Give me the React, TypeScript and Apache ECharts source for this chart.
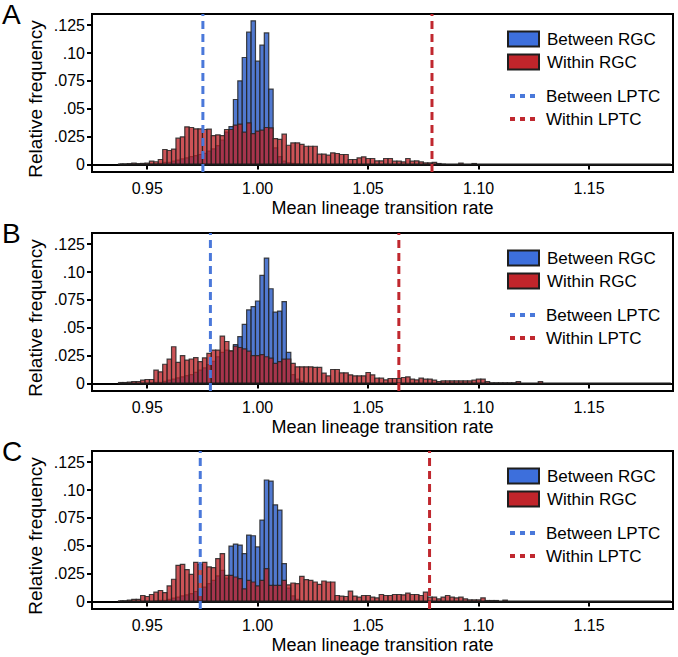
import React, { useEffect, useRef } from 'react';
import * as echarts from 'echarts';

// ---------- data ----------
const BIN_START = 0.937;
const BIN_WIDTH = 0.002;
const BASELINE_RANGE = [0.9375, 1.187];

const X_TICKS = [0.95, 1.0, 1.05, 1.1, 1.15];
const X_TICK_LABELS = ['0.95', '1.00', '1.05', '1.10', '1.15'];
const Y_TICKS = [0, 0.025, 0.05, 0.075, 0.1, 0.125];
const Y_TICK_LABELS = ['0', '.025', '.05', '.075', '.10', '.125'];

const PANEL_LETTERS = ['A', 'B', 'C'];
const betweenLPTC = [0.9752, 0.9786, 0.974];
const withinLPTC = [1.0789, 1.0639, 1.0778];

// Panel A
const betweenRGC_A = [
  0, 0, 0, 0, 0, 0, 0, 0.0005, 0.0005, 0.001,
  0.002, 0.002, 0.003, 0.004, 0.005, 0.006, 0.007, 0.008, 0.009, 0.01,
  0.012, 0.014, 0.017, 0.022, 0.029, 0.034, 0.0583, 0.075, 0.096, 0.1187,
  0.1289, 0.0927, 0.107, 0.118, 0.0676, 0.015, 0.007, 0.003, 0.0015, 0.001,
  0.0005,
];
const withinRGC_A = [
  0.0005, 0.0005, 0.0008, 0.0012, 0.0008, 0.001, 0.0012, 0.003, 0.0025, 0.0045,
  0.0135, 0.0126, 0.0138, 0.0236, 0.0248, 0.0338, 0.0332, 0.032, 0.032, 0.0314,
  0.0317, 0.026, 0.0266, 0.026, 0.0314, 0.0314, 0.0353, 0.0362, 0.029, 0.0374,
  0.0278, 0.03, 0.0308, 0.0332, 0.0329, 0.0233, 0.0225, 0.0272, 0.0173, 0.0194,
  0.0194, 0.018, 0.0164, 0.0164, 0.0164, 0.0093, 0.0093, 0.0084, 0.0105, 0.0099,
  0.009, 0.009, 0.0045, 0.0045, 0.006, 0.0069, 0.0054, 0.0054, 0.0033, 0.0033,
  0.0054, 0.0054, 0.003, 0.003, 0.0024, 0.0054, 0.003, 0.0033, 0.0024, 0.0015,
  0.0015, 0.002, 0.0009, 0.0003, 0, 0, 0, 0.0012, 0, 0,
  0.0009,
];

// Panel B
const betweenRGC_B = [
  0, 0, 0, 0, 0, 0, 0, 0.0005, 0.001, 0.001,
  0.002, 0.003, 0.004, 0.005, 0.006, 0.007, 0.008, 0.01, 0.012, 0.014,
  0.017, 0.02, 0.024, 0.028, 0.03, 0.029, 0.035, 0.042, 0.053, 0.066,
  0.069, 0.074, 0.097, 0.1125, 0.085, 0.064, 0.065, 0.0735, 0.028, 0.008,
  0.004, 0.002,
];
const withinRGC_B = [
  0.0009, 0.0009, 0.0012, 0.0018, 0.0018, 0.003, 0.0036, 0.0036, 0.012, 0.0105,
  0.0173, 0.0218, 0.033, 0.019, 0.025, 0.021, 0.022, 0.0233, 0.0197, 0.023,
  0.027, 0.03, 0.03, 0.0425, 0.0377, 0.0293, 0.0335, 0.0323, 0.031, 0.029,
  0.025, 0.025, 0.026, 0.024, 0.0227, 0.018, 0.0197, 0.0218, 0.022, 0.018,
  0.015, 0.015, 0.015, 0.015, 0.0144, 0.0144, 0.0093, 0.0069, 0.0126, 0.0126,
  0.0096, 0.0096, 0.0078, 0.0069, 0.0069, 0.0069, 0.0099, 0.0078, 0.0048, 0.0048,
  0.0033, 0.0045, 0.0045, 0.0045, 0.0054, 0.006, 0.0039, 0.0033, 0.0048, 0.0039,
  0.0039, 0.003, 0.0018, 0.0024, 0.0024, 0.0024, 0.0024, 0.0024, 0.0024, 0.0024,
  0.003, 0.0039, 0.0039, 0.0018, 0.0006, 0.0006, 0.0006, 0.0006, 0.0006, 0.0006,
  0.0018, 0, 0, 0, 0, 0.0018,
];

// Panel C
const betweenRGC_C = [
  0, 0, 0, 0, 0, 0, 0, 0, 0.0005, 0.001,
  0.001, 0.002, 0.003, 0.004, 0.005, 0.006, 0.007, 0.009, 0.011, 0.013,
  0.016, 0.019, 0.023, 0.028, 0.021, 0.0497, 0.0515, 0.0506, 0.043, 0.0596,
  0.059, 0.049, 0.073, 0.109, 0.108, 0.0867, 0.082, 0.034, 0.012, 0.005,
  0.002,
];
const withinRGC_C = [
  0.0006, 0.0006, 0.0012, 0.002, 0.002, 0.0054, 0.0045, 0.0063, 0.0084, 0.0099,
  0.008, 0.014, 0.02, 0.0325, 0.0334, 0.0286, 0.0244, 0.0352, 0.0334, 0.0352,
  0.031, 0.0304, 0.0385, 0.043, 0.0235, 0.0235, 0.022, 0.0205, 0.0114, 0.019,
  0.0175, 0.014, 0.019, 0.0295, 0.0144, 0.0144, 0.0144, 0.019, 0.015, 0.0166,
  0.016, 0.0226, 0.0196, 0.019, 0.0175, 0.0154, 0.0184, 0.0175, 0.0175, 0.0054,
  0.0048, 0.0045, 0.0093, 0.0048, 0.0039, 0.0054, 0.0054, 0.0039, 0.0033, 0.0063,
  0.0054, 0.0054, 0.0063, 0.0063, 0.006, 0.0075, 0.0063, 0.0063, 0.0054, 0.0084,
  0.0039, 0.0039, 0.0024, 0.0039, 0.0054, 0.0039, 0.0033, 0.0039, 0.0024, 0.0015,
  0.0015, 0.0015, 0.0033, 0.0009, 0.0009, 0.0009, 0, 0.0012,
];

const betweenRGC = [betweenRGC_A, betweenRGC_B, betweenRGC_C];
const withinRGC = [withinRGC_A, withinRGC_B, withinRGC_C];

// ---------- styling / layout ----------
const FONT = '"Liberation Sans", Arial, Helvetica, sans-serif';
const PANEL_TOPS = [14, 233, 451];
const GRID_LEFT = 92;
const GRID_WIDTH = 581;
const GRID_HEIGHT = 158;
const X_MIN = 0.925;
const X_MAX = 1.188;
const Y_MIN = -0.0067;
const Y_MAX = 0.135;

const BLUE = '#3d6fdc';
const RED = '#c1252b';
const BLUE_FILL = 'rgba(50,98,200,0.85)';
const RED_FILL = 'rgba(190,34,40,0.78)';
const EDGE = 'rgba(35,35,35,0.85)';
const LPTC_BLUE = '#4a78da';
const LPTC_RED = '#c0282f';
const DOTS = 'path://M0,0h5v4h-5z M10,0h5v4h-5z M20,0h5v4h-5z';

function histData(vals: number[]) {
  return vals.map((v, i) => [BIN_START + i * BIN_WIDTH, BIN_START + (i + 1) * BIN_WIDTH, v]);
}

const makeRender = (fill: string) => (_params: any, api: any) => {
  const v = api.value(2);
  if (!v) return null;
  const p0 = api.coord([api.value(0), v]);
  const p1 = api.coord([api.value(1), 0]);
  return {
    type: 'rect',
    shape: { x: p0[0], y: p0[1], width: p1[0] - p0[0], height: p1[1] - p0[1] },
    style: { fill, stroke: EDGE, lineWidth: 1.2 },
  };
};

function labelFor(ticks: number[], labels: string[], v: number) {
  for (let i = 0; i < ticks.length; i++) if (Math.abs(ticks[i] - v) < 1e-6) return labels[i];
  return '';
}

function buildOption() {
  const grid: any[] = [];
  const xAxis: any[] = [];
  const yAxis: any[] = [];
  const series: any[] = [];
  const legend: any[] = [];
  const graphic: any[] = [];

  PANEL_TOPS.forEach((top, i) => {
    grid.push({
      left: GRID_LEFT, top, width: GRID_WIDTH, height: GRID_HEIGHT,
      show: true, borderColor: '#000', borderWidth: 2, backgroundColor: 'transparent',
    });
    xAxis.push({
      type: 'value', gridIndex: i, min: X_MIN, max: X_MAX,
      name: 'Mean lineage transition rate', nameLocation: 'middle', nameGap: 27,
      nameTextStyle: { fontSize: 18, color: '#000', fontFamily: FONT },
      axisLine: { show: true, lineStyle: { color: '#000', width: 2 } },
      axisTick: { show: true, length: 5, lineStyle: { color: '#000', width: 2 }, customValues: X_TICKS },
      axisLabel: {
        show: true, fontSize: 16, color: '#000', fontFamily: FONT, margin: 8,
        customValues: X_TICKS,
        formatter: (v: number) => labelFor(X_TICKS, X_TICK_LABELS, v),
      },
      splitLine: { show: false },
    });
    yAxis.push({
      type: 'value', gridIndex: i, min: Y_MIN, max: Y_MAX,
      axisLine: { show: true, lineStyle: { color: '#000', width: 2 } },
      axisTick: { show: true, length: 5, lineStyle: { color: '#000', width: 2 }, customValues: Y_TICKS },
      axisLabel: {
        show: true, fontSize: 16, color: '#000', fontFamily: FONT, margin: 7,
        customValues: Y_TICKS,
        formatter: (v: number) => labelFor(Y_TICKS, Y_TICK_LABELS, v),
      },
      splitLine: { show: false },
    });

    series.push({
      type: 'custom', name: 'Between RGC', xAxisIndex: i, yAxisIndex: i,
      data: histData(betweenRGC[i]), encode: { x: [0, 1], y: 2 },
      renderItem: makeRender(BLUE_FILL), itemStyle: { color: BLUE }, z: 2, silent: true,
    });
    series.push({
      type: 'custom', name: 'Within RGC', xAxisIndex: i, yAxisIndex: i,
      data: histData(withinRGC[i]), encode: { x: [0, 1], y: 2 },
      renderItem: makeRender(RED_FILL), itemStyle: { color: RED }, z: 3, silent: true,
    });
    series.push({
      type: 'line', name: 'baseline', xAxisIndex: i, yAxisIndex: i,
      data: [[BASELINE_RANGE[0], 0], [BASELINE_RANGE[1], 0]],
      symbol: 'none', lineStyle: { color: '#1a1a1a', width: 2 }, z: 4, silent: true,
    });
    series.push({
      type: 'line', name: 'Between LPTC', xAxisIndex: i, yAxisIndex: i,
      data: [[betweenLPTC[i], Y_MIN], [betweenLPTC[i], Y_MAX]],
      symbol: 'none', lineStyle: { color: LPTC_BLUE, width: 3, type: [8, 5] },
      itemStyle: { color: LPTC_BLUE }, z: 5, silent: true,
    });
    series.push({
      type: 'line', name: 'Within LPTC', xAxisIndex: i, yAxisIndex: i,
      data: [[withinLPTC[i], Y_MIN], [withinLPTC[i], Y_MAX]],
      symbol: 'none', lineStyle: { color: LPTC_RED, width: 3, type: [8, 5] },
      itemStyle: { color: LPTC_RED }, z: 5, silent: true,
    });

    const textStyle = { fontSize: 17, lineHeight: 17, color: '#000', fontFamily: FONT, padding: [0, 0, 0, 3] };
    legend.push({
      orient: 'vertical', left: 507, top: top + 16.5, padding: 0,
      itemWidth: 31, itemHeight: 15, itemGap: 6, selectedMode: false,
      textStyle,
      data: [
        { name: 'Between RGC', icon: 'rect', itemStyle: { color: BLUE, borderColor: '#1e1e1e', borderWidth: 2 } },
        { name: 'Within RGC', icon: 'rect', itemStyle: { color: RED, borderColor: '#1e1e1e', borderWidth: 2 } },
      ],
    });
    legend.push({
      orient: 'vertical', left: 510, top: top + 73.5, padding: 0,
      itemWidth: 25, itemHeight: 4, itemGap: 6, selectedMode: false,
      textStyle: { ...textStyle, padding: [0, 0, 0, 6] },
      data: [
        { name: 'Between LPTC', icon: DOTS, itemStyle: { color: LPTC_BLUE } },
        { name: 'Within LPTC', icon: DOTS, itemStyle: { color: LPTC_RED } },
      ],
    });

    graphic.push({
      type: 'text', left: 2, top: top - 14,
      style: { text: PANEL_LETTERS[i], fontSize: 28, fill: '#000', fontFamily: FONT },
    });
    graphic.push({
      type: 'text', x: 35, y: top + GRID_HEIGHT / 2 + 6, rotation: Math.PI / 2,
      style: {
        text: 'Relative frequency', fontSize: 19, fill: '#000', fontFamily: FONT,
        align: 'center', verticalAlign: 'middle',
      },
    });
  });

  return {
    animation: false,
    backgroundColor: '#fff',
    textStyle: { fontFamily: FONT },
    grid, xAxis, yAxis, series, legend, graphic,
  };
}

export default function App() {
  const ref = useRef<HTMLDivElement>(null);
  useEffect(() => {
    document.body.style.margin = '0';
    if (!ref.current) return;
    const chart = echarts.init(ref.current, undefined, { renderer: 'svg' });
    chart.setOption(buildOption() as any);
    return () => chart.dispose();
  }, []);
  return <div ref={ref} style={{ width: 678, height: 657 }} />;
}
